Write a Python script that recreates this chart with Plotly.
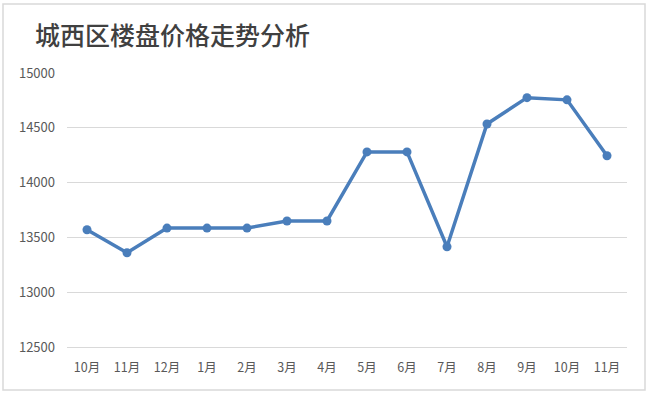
import plotly.graph_objects as go

months = ["10月", "11月", "12月", "1月", "2月", "3月", "4月", "5月", "6月", "7月", "8月", "9月", "10月", "11月"]
prices = [13570, 13360, 13585, 13585, 13585, 13650, 13650, 14280, 14280, 13415, 14535, 14775, 14755, 14245]
y_ticks = [12500, 13000, 13500, 14000, 14500, 15000]
title_text = "城西区楼盘价格走势分析"

x_idx = list(range(len(months)))

W, H = 650, 397
L, R, T, B = 67, 23, 73, 50
pw, ph = W - L - R, H - T - B

def px_to_paper_x(px):
    return (px - L) / pw

def px_to_paper_y(py):
    return (H - B - py) / ph

fig = go.Figure()
fig.add_trace(go.Scatter(
    x=x_idx, y=prices, mode="lines+markers",
    line=dict(color="#4A7EBB", width=3.5),
    marker=dict(color="#4A7EBB", size=9),
    hoverinfo="skip", showlegend=False,
))

font = "Noto Sans CJK SC, Microsoft YaHei, sans-serif"
fig.update_layout(
    width=W, height=H,
    margin=dict(l=L, r=R, t=T, b=B),
    paper_bgcolor="white", plot_bgcolor="white",
    font=dict(family=font, color="#595959", size=12),
    xaxis=dict(
        range=[-0.5, len(months) - 0.5],
        tickmode="array", tickvals=x_idx, ticktext=months,
        showgrid=False, zeroline=False, ticks="",
        showline=True, linecolor="#D9D9D9", linewidth=1.2,
        ticklabelstandoff=9,
        tickfont=dict(size=12.5, color="#595959"),
        fixedrange=True,
    ),
    yaxis=dict(
        range=[12500, 15000],
        tickmode="array", tickvals=y_ticks, ticktext=[str(v) for v in y_ticks],
        showgrid=True, gridcolor="#D9D9D9", gridwidth=1.2,
        zeroline=False, showline=False, ticks="",
        ticklabelstandoff=11,
        tickfont=dict(size=13, color="#595959"),
        fixedrange=True,
    ),
    shapes=[dict(
        type="rect", xref="paper", yref="paper",
        x0=px_to_paper_x(3), x1=px_to_paper_x(645),
        y0=px_to_paper_y(390), y1=px_to_paper_y(4),
        line=dict(color="#D9D9D9", width=1.5), fillcolor="rgba(0,0,0,0)", layer="below",
    )],
    annotations=[dict(
        text=title_text, xref="paper", yref="paper",
        x=px_to_paper_x(33), y=px_to_paper_y(34),
        xanchor="left", yanchor="middle", showarrow=False,
        font=dict(family=font, size=25, color="#404040", weight=500),
    )],
)

fig.write_html("out.html", config={"displayModeBar": False},
               post_script="document.body.style.margin='0';")
